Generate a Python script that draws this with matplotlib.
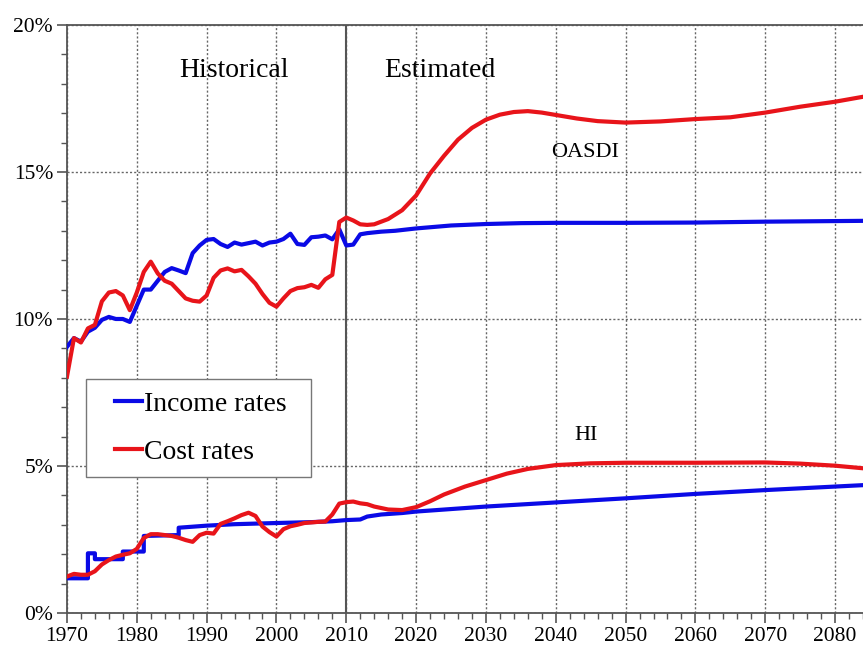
import numpy as np
import matplotlib.pyplot as plt
from matplotlib.ticker import MultipleLocator, FuncFormatter
from matplotlib.legend_handler import HandlerLine2D
from matplotlib.lines import Line2D

# --- values (percent of taxable payroll) ---
oasdi_income_years = [1970, 1971, 1972, 1973, 1974, 1975, 1976, 1977, 1978, 1979,
                      1980, 1981, 1982, 1983, 1984, 1985, 1986, 1987, 1988, 1989,
                      1990, 1991, 1992, 1993, 1994, 1995, 1996, 1997, 1998, 1999,
                      2000, 2001, 2002, 2003, 2004, 2005, 2006, 2007, 2008, 2009,
                      2010, 2011, 2012, 2013, 2015, 2017, 2020, 2025, 2030, 2035,
                      2040, 2050, 2060, 2070, 2080, 2085]
oasdi_income = [9.05, 9.35, 9.23, 9.57, 9.7, 9.97, 10.07, 10.0, 10.0, 9.9,
                10.45, 11.0, 11.0, 11.3, 11.6, 11.73, 11.65, 11.56, 12.24, 12.5,
                12.69, 12.72, 12.55, 12.45, 12.6, 12.53, 12.58, 12.63, 12.5, 12.6,
                12.63, 12.72, 12.9, 12.55, 12.52, 12.78, 12.8, 12.84, 12.71, 13.05,
                12.5, 12.53, 12.88, 12.92, 12.97, 13.0, 13.08, 13.18, 13.23, 13.26,
                13.27, 13.27, 13.28, 13.31, 13.33, 13.34]

oasdi_cost_years = [1970, 1971, 1972, 1973, 1974, 1975, 1976, 1977, 1978, 1979,
                    1980, 1981, 1982, 1983, 1984, 1985, 1986, 1987, 1988, 1989,
                    1990, 1991, 1992, 1993, 1994, 1995, 1996, 1997, 1998, 1999,
                    2000, 2001, 2002, 2003, 2004, 2005, 2006, 2007, 2008, 2009,
                    2010, 2011, 2012, 2013, 2014, 2016, 2018, 2020, 2022, 2024,
                    2026, 2028, 2030, 2032, 2034, 2036, 2038, 2040, 2043, 2046,
                    2050, 2055, 2060, 2065, 2070, 2075, 2080, 2085]
oasdi_cost = [8.04, 9.35, 9.2, 9.68, 9.8, 10.6, 10.9, 10.95, 10.8, 10.3,
              10.9, 11.6, 11.95, 11.55, 11.3, 11.2, 10.95, 10.7, 10.62, 10.59,
              10.8, 11.4, 11.65, 11.72, 11.62, 11.67, 11.45, 11.2, 10.85, 10.55,
              10.42, 10.7, 10.95, 11.05, 11.08, 11.16, 11.06, 11.35, 11.5, 13.3,
              13.45, 13.35, 13.22, 13.2, 13.22, 13.4, 13.7, 14.2, 14.95, 15.55,
              16.1, 16.5, 16.78, 16.95, 17.04, 17.07, 17.02, 16.94, 16.82, 16.73,
              16.68, 16.72, 16.8, 16.86, 17.02, 17.22, 17.39, 17.6]

# HI income moves in steps during the historical period (repeated years = steps)
hi_income_years = [1970, 1973, 1973, 1974, 1974, 1978, 1978, 1981, 1981, 1986,
                   1986, 1990, 1994, 2000, 2005, 2008, 2010, 2012, 2013, 2015,
                   2018, 2020, 2030, 2040, 2050, 2060, 2070, 2080, 2085]
hi_income = [1.18, 1.18, 2.03, 2.03, 1.83, 1.83, 2.09, 2.09, 2.62, 2.65,
             2.9, 2.97, 3.02, 3.06, 3.09, 3.12, 3.16, 3.18, 3.28, 3.35,
             3.4, 3.45, 3.62, 3.76, 3.9, 4.05, 4.18, 4.3, 4.36]

hi_cost_years = [1970, 1971, 1972, 1973, 1974, 1975, 1976, 1977, 1978, 1979,
                 1980, 1981, 1982, 1983, 1984, 1985, 1986, 1987, 1988, 1989,
                 1990, 1991, 1992, 1993, 1994, 1995, 1996, 1997, 1998, 1999,
                 2000, 2001, 2002, 2003, 2004, 2005, 2006, 2007, 2008, 2009,
                 2010, 2011, 2012, 2013, 2014, 2016, 2018, 2020, 2022, 2024,
                 2027, 2030, 2033, 2036, 2040, 2045, 2050, 2060, 2070, 2075,
                 2080, 2085]
hi_cost = [1.24, 1.33, 1.3, 1.3, 1.42, 1.65, 1.8, 1.92, 1.98, 2.03,
           2.18, 2.55, 2.68, 2.68, 2.65, 2.62, 2.56, 2.48, 2.42, 2.65,
           2.73, 2.7, 3.03, 3.12, 3.22, 3.33, 3.41, 3.3, 2.94, 2.75,
           2.6, 2.85, 2.95, 3.0, 3.06, 3.08, 3.1, 3.11, 3.35, 3.72,
           3.77, 3.79, 3.73, 3.7, 3.62, 3.52, 3.5, 3.6, 3.8, 4.03,
           4.3, 4.52, 4.74, 4.9, 5.03, 5.09, 5.11, 5.11, 5.12, 5.08,
           5.01, 4.9]

BLUE = '#0a0ae6'
RED = '#e8141a'
GRID = '#555555'

plt.rcParams['font.family'] = ['Liberation Serif', 'DejaVu Serif']

fig = plt.figure(figsize=(8.63, 6.49), dpi=100)
ax = fig.add_axes([0.0776, 0.0555, 0.9224, 0.906])

lw = 3.0
ax.plot(oasdi_income_years, oasdi_income, color=BLUE, lw=lw, label='Income rates',
        solid_joinstyle='round', zorder=3)
ax.plot(oasdi_cost_years, oasdi_cost, color=RED, lw=lw, label='Cost rates',
        solid_joinstyle='round', zorder=3)
ax.plot(hi_income_years, hi_income, color=BLUE, lw=lw, solid_joinstyle='round', zorder=3)
ax.plot(hi_cost_years, hi_cost, color=RED, lw=lw, solid_joinstyle='round', zorder=3)

# historical / estimated divider
ax.axvline(2010, color=GRID, lw=1.5, zorder=2)

ax.set_xlim(1970, 2084)
ax.set_ylim(0, 20)
ax.xaxis.set_major_locator(MultipleLocator(10))
ax.xaxis.set_minor_locator(MultipleLocator(2))
ax.yaxis.set_major_locator(MultipleLocator(5))
ax.yaxis.set_minor_locator(MultipleLocator(1))
ax.yaxis.set_major_formatter(FuncFormatter(lambda v, p: f'{v:.0f}%'))
ax.tick_params(which='major', direction='out', length=7, width=1.2, color=GRID,
               labelsize=15.5, pad=3)
ax.tick_params(which='minor', direction='out', length=4, width=1.0, color=GRID)
ax.grid(True, which='major', linestyle=(0, (1.5, 1.5)), color='#666666', lw=1.0, zorder=1)

for side in ['left', 'bottom', 'top']:
    ax.spines[side].set_color(GRID)
    ax.spines[side].set_linewidth(1.3)
ax.spines['right'].set_visible(False)

ax.text(1993.9, 18.45, 'Historical', fontsize=20, ha='center', va='center')
ax.text(2023.4, 18.45, 'Estimated', fontsize=20, ha='center', va='center')
ax.text(2044.2, 15.65, 'OASDI', fontsize=16, ha='center', va='center')
ax.text(2044.3, 6.05, 'HI', fontsize=16, ha='center', va='center')

# legend: short handle set in from the frame edge, like the original
hmap = {Line2D: HandlerLine2D(xpad=0.6)}
leg = ax.legend(loc='upper left', bbox_to_anchor=(0.0239, 0.2347, 0.2826, 0.163),
                mode='expand', fontsize=20, handler_map=hmap,
                handlelength=1.58, handletextpad=0.05, borderpad=0.45,
                labelspacing=0.8, borderaxespad=0, fancybox=False,
                framealpha=1, edgecolor='#777777')
leg.get_frame().set_linewidth(1.0)
leg.set_zorder(5)

fig.savefig('out.png', dpi=100)
